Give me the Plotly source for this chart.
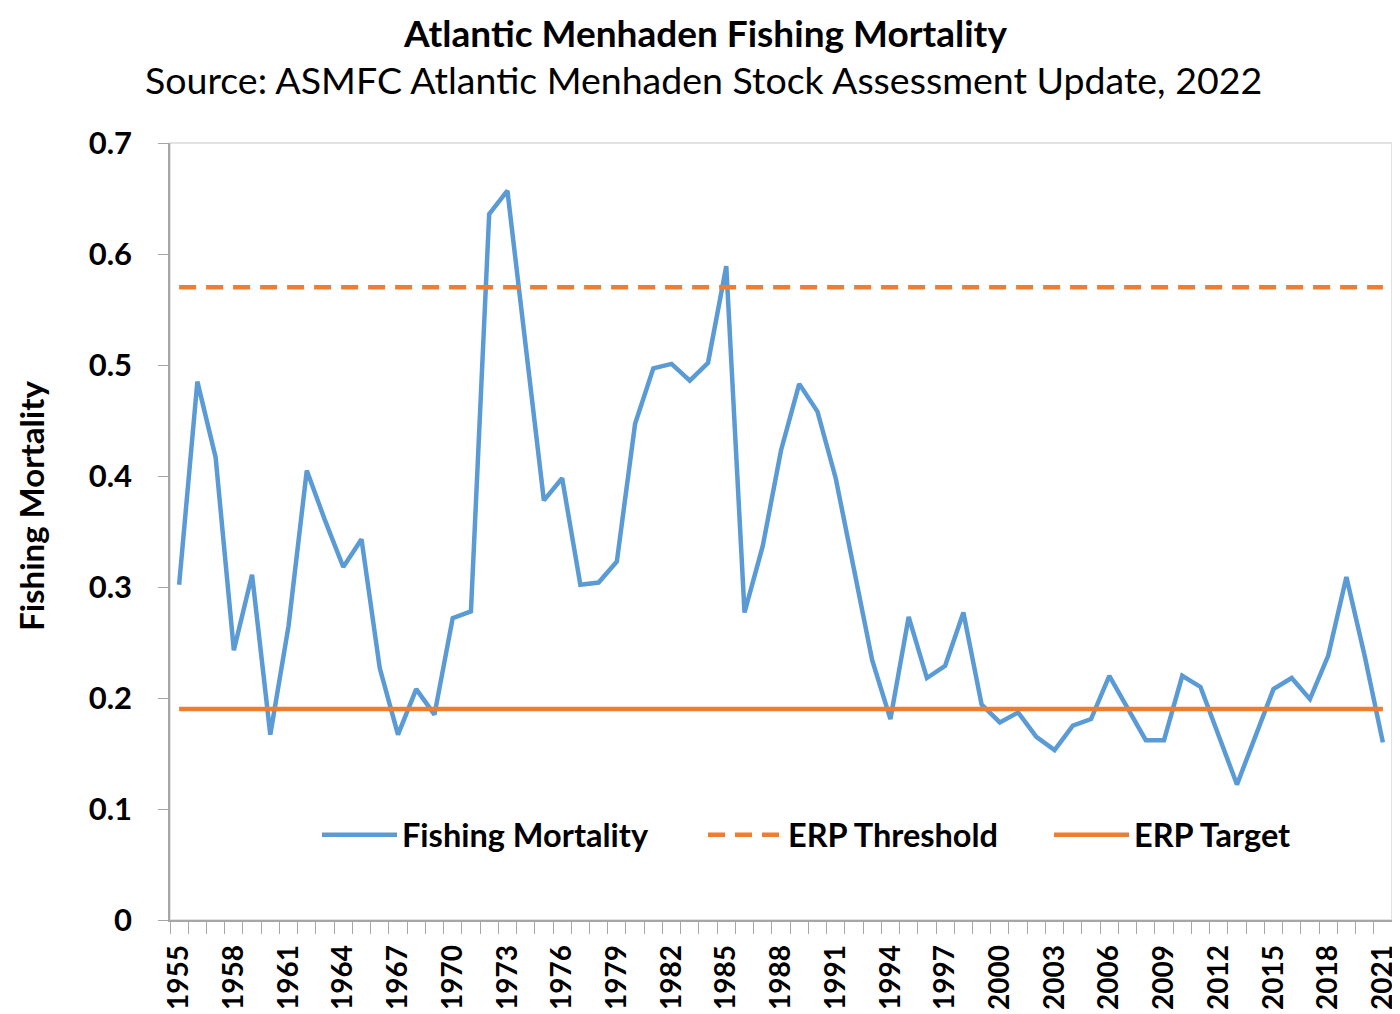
import plotly.graph_objects as go

# data
years = list(range(1955, 2022))
fishing_mortality = [
    0.302, 0.485, 0.417, 0.243, 0.311, 0.167, 0.265, 0.405, 0.360, 0.318,
    0.343, 0.227, 0.167, 0.208, 0.185, 0.272, 0.278, 0.636, 0.657, 0.520,
    0.378, 0.398, 0.302, 0.304, 0.323, 0.447, 0.497, 0.501, 0.486, 0.502,
    0.589, 0.277, 0.337, 0.423, 0.483, 0.458, 0.398, 0.316, 0.234, 0.181,
    0.273, 0.218, 0.229, 0.277, 0.194, 0.178, 0.187, 0.165, 0.153, 0.175,
    0.181, 0.220, 0.190, 0.162, 0.162, 0.220, 0.210, 0.165, 0.122, 0.165,
    0.208, 0.218, 0.199, 0.238, 0.309, 0.238, 0.160,
]
erp_threshold = [0.57] * len(years)
erp_target = [0.19] * len(years)
year_ticks = list(range(1955, 2022, 3))

BLUE = "#5B9BD5"
ORANGE = "#ED7D31"
FONT = "Lato"

# the page body adds an 8px margin, so the figure is sized to fit inside it
OFF = 8
W, H = 1400 - OFF, 1014 - OFF
L, R, T, B = 170 - OFF, 8, 143 - OFF, 94
PW, PH = W - L - R, H - T - B


def px_x(x):
    return (x - OFF - L) / PW


def px_y(y):
    return (H - B - (y - OFF)) / PH


fig = go.Figure()
fig.add_trace(go.Scatter(
    x=years, y=fishing_mortality, name="Fishing Mortality", legend="legend",
    mode="lines", line=dict(color=BLUE, width=4.5),
))
fig.add_trace(go.Scatter(
    x=years, y=erp_threshold, name="ERP Threshold", legend="legend2",
    mode="lines", line=dict(color=ORANGE, width=4.5, dash="17px,10px"),
))
fig.add_trace(go.Scatter(
    x=years, y=erp_target, name="ERP Target", legend="legend3",
    mode="lines", line=dict(color=ORANGE, width=4.5),
))

legend_style = dict(
    orientation="h", yanchor="middle", xanchor="left", y=px_y(835),
    font=dict(size=32.5, family=FONT, weight="bold", color="#000000"),
    bgcolor="rgba(0,0,0,0)", itemwidth=75,
)

fig.update_layout(
    width=W, height=H,
    paper_bgcolor="white", plot_bgcolor="white",
    margin=dict(l=L, r=R, t=T, b=B, autoexpand=False),
    font=dict(family=FONT, color="#000000"),
    showlegend=True,
    legend=dict(legend_style, x=px_x(317)),
    legend2=dict(legend_style, x=px_x(703)),
    legend3=dict(legend_style, x=px_x(1049)),
    shapes=[dict(type="rect", xref="paper", yref="paper", x0=0, x1=1, y0=0, y1=1,
                 line=dict(color="#D9D9D9", width=1.5), layer="below")],
)

fig.add_annotation(
    text="<b>Atlantic Menhaden Fishing Mortality</b>",
    xref="paper", yref="paper", x=px_x(705), y=px_y(32),
    xanchor="center", yanchor="middle", showarrow=False,
    font=dict(size=37, family=FONT),
)
fig.add_annotation(
    text="Source: ASMFC Atlantic Menhaden Stock Assessment Update, 2022",
    xref="paper", yref="paper", x=px_x(703), y=px_y(80),
    xanchor="center", yanchor="middle", showarrow=False,
    font=dict(size=37.5, family=FONT),
)
fig.add_annotation(
    text="<b>Fishing Mortality</b>",
    xref="paper", yref="paper", x=px_x(31), y=px_y(506),
    xanchor="center", yanchor="middle", textangle=-90, showarrow=False,
    font=dict(size=33, family=FONT),
)

fig.update_xaxes(
    range=[1954.5, 2021.5], tickmode="array", tickvals=year_ticks,
    tickangle=-90, tickfont=dict(size=28, family=FONT, weight="bold"),
    ticks="", ticklabelstandoff=12, automargin=False,
    minor=dict(dtick=1, tick0=1954.5, ticks="outside", ticklen=12, tickcolor="#A6A6A6"),
    showline=True, linecolor="#A6A6A6", linewidth=1.5,
    showgrid=False, zeroline=False,
)
fig.update_yaxes(
    range=[0, 0.7], dtick=0.1, tick0=0,
    tickfont=dict(size=31, family=FONT, weight="bold"),
    ticks="outside", ticklen=10, tickcolor="#A6A6A6", ticklabelstandoff=20,
    automargin=False,
    showline=True, linecolor="#A6A6A6", linewidth=1.5,
    showgrid=False, zeroline=False,
)

fig.write_html("out.html")
